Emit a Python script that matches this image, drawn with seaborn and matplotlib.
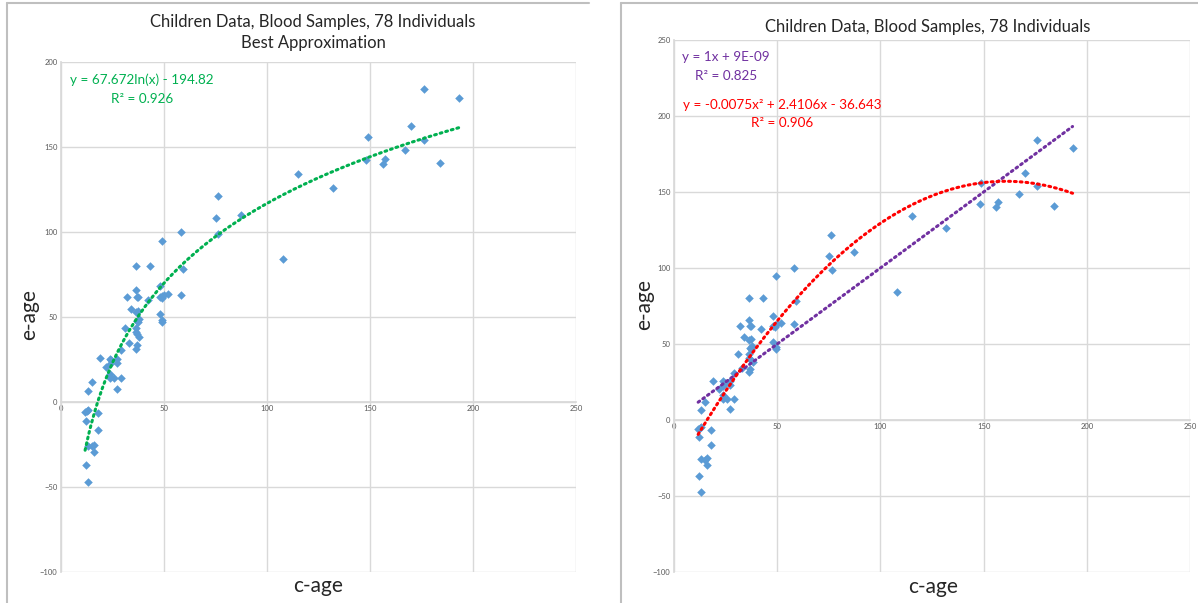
import numpy as np
import matplotlib
matplotlib.use("Agg")
import matplotlib.pyplot as plt
import seaborn as sns
from matplotlib.lines import Line2D

# chronological age vs estimated age
c_age = [11.7, 12.5, 13.0, 12.1, 13.0, 15.0, 17.9, 17.9, 13.0, 15.0,
         16.0, 16.0, 12.1, 13.0, 18.9, 22.0, 23.9, 23.9, 23.9, 23.9,
         25.9, 27.0, 27.0, 27.0, 29.0, 29.0, 30.9, 33.1, 33.9, 32.1,
         36.2, 43.2, 36.2, 37.0, 37.3, 36.2, 37.3, 37.8, 37.0, 36.2,
         36.2, 37.0, 38.1, 37.0, 36.2, 42.0, 48.0, 48.0, 48.9, 50.0,
         52.0, 48.0, 49.2, 49.2, 49.2, 58.3, 59.3, 58.3, 75.2, 76.4,
         87.3, 76.0, 108.0, 115.2, 132.0, 148.9, 148.1, 156.1, 157.1, 167.1,
         170.1, 176.0, 176.0, 184.0, 193.1, 24.5, 37.5, 49.0]
e_age = [-6.1, -5.1, -4.9, -11.0, 6.7, 11.6, -6.7, -16.3, -25.7, -26.1,
         -25.3, -29.6, -36.9, -47.1, 25.9, 20.4, 25.5, 22.2, 16.7, 14.1,
         14.1, 25.5, 22.9, 7.5, 14.1, 30.8, 43.5, 34.5, 54.5, 61.6,
         80.0, 80.0, 66.1, 62.0, 61.6, 52.9, 53.3, 48.8, 47.5, 43.5,
         41.0, 40.0, 38.2, 33.3, 31.4, 59.8, 68.4, 61.6, 62.2, 63.1,
         63.5, 51.6, 48.0, 46.9, 94.7, 99.8, 78.0, 62.9, 108.2, 98.6,
         110.2, 121.4, 84.1, 134.3, 126.1, 155.7, 142.2, 140.2, 143.1, 148.4,
         162.4, 183.9, 154.1, 140.6, 178.8, 24.5, 47.0, 61.0]

# trendline coefficients (as printed on the charts)
log_fit = [67.672, -194.82]            # a*ln(x) + b
lin_fit = [1.0, 9e-09]                 # a*x + b
quad_fit = [-0.0075, 2.4106, -36.643]  # a*x^2 + b*x + c

title_text = "Children Data, Blood Samples, 78 Individuals"
x_ticks = [0, 50, 100, 150, 200, 250]

W, H = 1198, 603
FONT = ["Lato", "DejaVu Sans"]
BLUE = "#5B9BD5"
GRID = "#D9D9D9"
DOTS = (0, (0.6, 1.3))


def fx(px):
    return px / W


def fy(py):
    return 1 - py / H


def style_axes(ax, ylim, yticks):
    ax.set_xlim(0, 250)
    ax.set_ylim(*ylim)
    ax.set_xticks(x_ticks)
    ax.set_yticks(yticks)
    ax.grid(True, color=GRID, linewidth=1.0)
    ax.set_axisbelow(True)
    for s in ["top", "right"]:
        ax.spines[s].set_visible(False)
    ax.spines["bottom"].set_position(("data", 0))
    ax.spines["bottom"].set_color(GRID)
    ax.spines["left"].set_color(GRID)
    ax.tick_params(length=0, labelsize=5.5, labelcolor="#595959", pad=2.5)
    ax.set_xlabel("")
    ax.set_ylabel("")
    ax.set_facecolor("white")


sns.set_theme(style="white")
plt.rcParams["font.family"] = FONT

fig = plt.figure(figsize=(W / 100, H / 100), dpi=100)

# panel borders (only the top and left edges are visible)
for x0, x1 in [(7, 589), (621, 1198)]:
    fig.add_artist(Line2D([fx(x0), fx(x1)], [fy(3), fy(3)], color="#BFBFBF", lw=1.5))
    fig.add_artist(Line2D([fx(x0), fx(x0)], [fy(3), 0], color="#BFBFBF", lw=1.5))

# ---- left chart: log fit
ax1 = fig.add_axes([fx(61), fy(572), fx(576) - fx(61), fy(62) - fy(572)])
sns.scatterplot(x=c_age, y=e_age, ax=ax1, marker="D", s=19, color=BLUE,
                linewidth=0, zorder=3)
xs = np.linspace(min(c_age), max(c_age), 200)
ax1.plot(xs, log_fit[0] * np.log(xs) + log_fit[1], color="#00B050",
         lw=2.2, ls=DOTS, dash_capstyle="round", zorder=4)
style_axes(ax1, (-100, 200), [-100, -50, 0, 50, 100, 150, 200])

fig.text(fx(313), fy(22), title_text, ha="center", va="center", fontsize=12)
fig.text(fx(313), fy(43), "Best Approximation", ha="center", va="center", fontsize=12)
fig.text(fx(142), fy(80), "y = 67.672ln(x) - 194.82", ha="center", va="center",
         fontsize=9.7, color="#00B050")
fig.text(fx(142), fy(99), "R² = 0.926", ha="center", va="center",
         fontsize=9.7, color="#00B050")
fig.text(fx(318), fy(586), "c-age", ha="center", va="center", fontsize=15)
fig.text(fx(29), fy(315), "e-age", ha="center", va="center", fontsize=15, rotation=90)

# ---- right chart: linear and quadratic fits
ax2 = fig.add_axes([fx(674), fy(572), fx(1190) - fx(674), fy(40) - fy(572)])
sns.scatterplot(x=c_age, y=e_age, ax=ax2, marker="D", s=19, color=BLUE,
                linewidth=0, zorder=3)
ax2.plot(xs, np.polyval(lin_fit, xs), color="#7030A0",
         lw=2.2, ls=DOTS, dash_capstyle="round", zorder=4)
ax2.plot(xs, np.polyval(quad_fit, xs), color="#FF0000",
         lw=2.2, ls=DOTS, dash_capstyle="round", zorder=4)
style_axes(ax2, (-100, 250), [-100, -50, 0, 50, 100, 150, 200, 250])

fig.text(fx(928), fy(27), title_text, ha="center", va="center", fontsize=12)
fig.text(fx(726), fy(57), "y = 1x + 9E-09", ha="center", va="center",
         fontsize=9.7, color="#7030A0")
fig.text(fx(726), fy(76), "R² = 0.825", ha="center", va="center",
         fontsize=9.7, color="#7030A0")
fig.text(fx(782), fy(105), "y = -0.0075x² + 2.4106x - 36.643", ha="center",
         va="center", fontsize=9.7, color="#FF0000")
fig.text(fx(782), fy(123), "R² = 0.906", ha="center", va="center",
         fontsize=9.7, color="#FF0000")
fig.text(fx(933), fy(587), "c-age", ha="center", va="center", fontsize=15)
fig.text(fx(644), fy(305), "e-age", ha="center", va="center", fontsize=15, rotation=90)

fig.savefig("out.png", dpi=100, facecolor="white")
